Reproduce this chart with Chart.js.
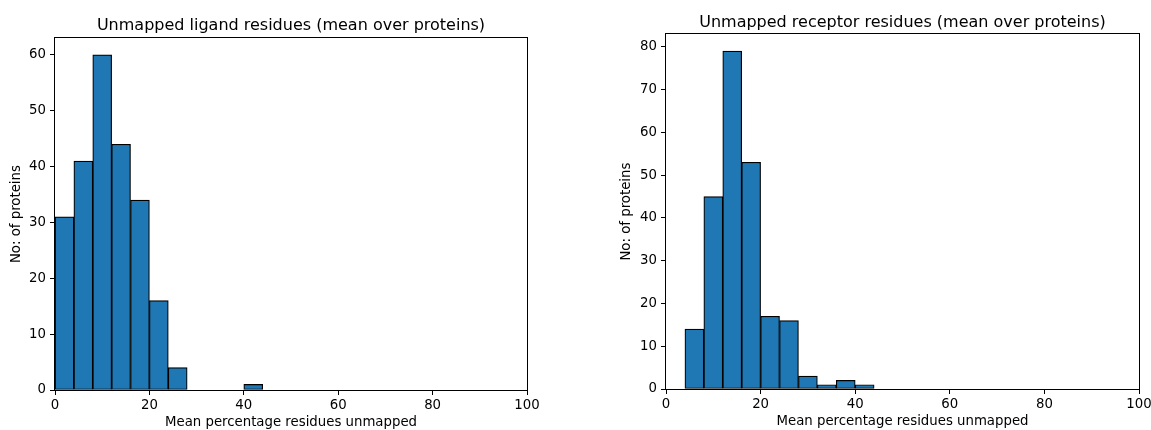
<!DOCTYPE html>
<html><head><meta charset="utf-8">
<script src="https://cdn.jsdelivr.net/npm/chart.js@4"></script>
<style>
html,body{margin:0;padding:0;background:#fff;overflow:hidden;width:1151px;height:430px;}
canvas{position:absolute;top:0;}
#c1{left:0}
#c2{left:600px}
</style></head><body>
<canvas id="c1" width="582" height="430"></canvas>
<canvas id="c2" width="605" height="430"></canvas>
<script>
// ---- data ----
const binWidth = 4;
const ligandBinStarts = [0, 4, 8, 12, 16, 20, 24, 28, 32, 36, 40];
const ligandCounts    = [31, 41, 60, 44, 34, 16, 4, 0, 0, 0, 1];
const receptorBinStarts = [4, 8, 12, 16, 20, 24, 28, 32, 36, 40];
const receptorCounts    = [14, 45, 79, 53, 17, 16, 3, 1, 2, 1];
const xTickValues = [0, 20, 40, 60, 80, 100];
const ligandYTicks = [0, 10, 20, 30, 40, 50, 60];
const receptorYTicks = [0, 10, 20, 30, 40, 50, 60, 70, 80];
const ligandTitle = 'Unmapped ligand residues (mean over proteins)';
const receptorTitle = 'Unmapped receptor residues (mean over proteins)';
const xLabel = 'Mean percentage residues unmapped';
const yLabel = 'No: of proteins';

const FONT = '"DejaVu Sans", "Liberation Sans", sans-serif';

const frame = {
  id: 'frame',
  afterDatasetsDraw(chart) {
    const a = chart.chartArea, ctx = chart.ctx;
    ctx.save();
    ctx.strokeStyle = '#000';
    ctx.lineWidth = 1;
    ctx.strokeRect(Math.round(a.left) - 0.5, Math.round(a.top) - 0.5,
                   Math.round(a.right - a.left) + 1, Math.round(a.bottom - a.top) + 1);
    ctx.restore();
  }
};

function makeChart(id, o) {
  const data = o.starts.map((s, i) => ({ x: s + binWidth / 2, y: o.counts[i] }));
  return new Chart(document.getElementById(id), {
    type: 'bar',
    data: { datasets: [{
      data,
      backgroundColor: '#1f77b4',
      borderColor: '#000',
      borderWidth: 1.2,
      borderSkipped: false,
      barPercentage: 1,
      categoryPercentage: 1
    }]},
    options: {
      responsive: false,
      animation: false,
      layout: { padding: 0 },
      plugins: {
        legend: { display: false },
        tooltip: { enabled: false },
        title: {
          display: true, text: o.title, color: '#000',
          font: { family: FONT, size: 16, weight: 'normal' },
          padding: { top: o.titleTop, bottom: o.titleBottom }
        }
      },
      scales: {
        x: {
          type: 'linear', min: 0, max: 100, offset: false,
          afterBuildTicks: s => { s.ticks = xTickValues.map(v => ({ value: v })); },
          afterFit: s => { s.height = o.xHeight; },
          border: { display: false },
          grid: { offset: false, drawOnChartArea: false, drawTicks: true, tickLength: 5, color: '#000', lineWidth: 1 },
          ticks: { color: '#000', font: { family: FONT, size: 13.3 }, padding: 3, maxRotation: 0 },
          title: { display: true, text: xLabel, color: '#000', font: { family: FONT, size: 13.3 }, padding: { top: 0, bottom: o.xTitleBottom } }
        },
        y: {
          type: 'linear', min: 0, max: o.yMax,
          afterBuildTicks: s => { s.ticks = o.yTicks.map(v => ({ value: v })); },
          afterFit: s => { s.width = o.yWidth; },
          border: { display: false },
          grid: { offset: false, drawOnChartArea: false, drawTicks: true, tickLength: 5, color: '#000', lineWidth: 1 },
          ticks: { color: '#000', font: { family: FONT, size: 13.3 }, padding: 4 },
          title: { display: true, text: yLabel, color: '#000', font: { family: FONT, size: 13.3 }, padding: { top: o.yTitlePad, bottom: 0 } }
        },
        yRight: {
          type: 'linear', position: 'right', min: 0, max: o.yMax, display: true,
          afterFit: s => { s.width = o.rightPad; },
          border: { display: false },
          grid: { display: false, drawTicks: false },
          ticks: { display: false }
        }
      }
    },
    plugins: [frame]
  });
}

makeChart('c1', {
  title: ligandTitle, starts: ligandBinStarts, counts: ligandCounts,
  yMax: 63, yTicks: ligandYTicks, yWidth: 55, rightPad: 55,
  titleTop: 16, titleBottom: 3, xHeight: 40, xTitleBottom: -1, yTitlePad: 9
});
makeChart('c2', {
  title: receptorTitle, starts: receptorBinStarts, counts: receptorCounts,
  yMax: 82.95, yTicks: receptorYTicks, yWidth: 66, rightPad: 66,
  titleTop: 13, titleBottom: 2, xHeight: 41, xTitleBottom: 0, yTitlePad: 19
});
</script>
</body></html>
